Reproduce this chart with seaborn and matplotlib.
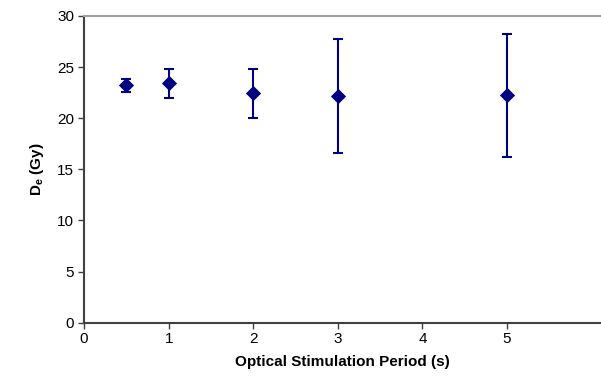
import numpy as np
import pandas as pd
import matplotlib
matplotlib.use("Agg")
import matplotlib.pyplot as plt
import seaborn as sns

# dados
periodo = [0.5, 1, 2, 3, 5]
de_gy = [23.2, 23.45, 22.45, 22.2, 22.25]
erro_inf = [22.6, 22.0, 20.06, 16.55, 16.2]
erro_sup = [23.8, 24.8, 24.8, 27.75, 28.25]

df = pd.DataFrame({"Periodo": periodo, "De": de_gy, "Inf": erro_inf, "Sup": erro_sup})

sns.set_style("ticks")
plt.rcParams["font.family"] = ["Liberation Sans", "DejaVu Sans"]
plt.rcParams["mathtext.fontset"] = "custom"
plt.rcParams["mathtext.rm"] = "Liberation Sans"
plt.rcParams["mathtext.bf"] = "Liberation Sans:bold"
plt.rcParams["text.color"] = "black"
plt.rcParams["axes.labelcolor"] = "black"
plt.rcParams["xtick.color"] = "black"
plt.rcParams["ytick.color"] = "black"

fig = plt.figure(figsize=(6.01, 3.8), dpi=100)
ax = fig.add_axes([0.1398, 0.151, 0.8602, 0.807])

cor = "#000080"
yerr = np.array([df["De"] - df["Inf"], df["Sup"] - df["De"]])
ax.errorbar(df["Periodo"], df["De"], yerr=yerr, fmt="none", ecolor=cor,
            elinewidth=1.5, capsize=3.8, capthick=1.5, zorder=2)
sns.scatterplot(data=df, x="Periodo", y="De", marker="D", s=60, color=cor,
                edgecolor=cor, linewidth=0, ax=ax, zorder=3)

ax.set_xlim(0, 6.11)
ax.set_ylim(0, 30)
ax.set_xticks(range(0, 6))
ax.set_yticks(range(0, 31, 5))
ax.tick_params(axis="both", labelsize=11, length=4, width=1, color="#404040", pad=3)

ax.set_xlabel("Optical Stimulation Period (s)", fontsize=11, fontweight="bold", labelpad=6)
ax.set_ylabel(r"$\mathbf{D_e}$ (Gy)", fontsize=11, fontweight="bold", labelpad=8)

for lado in ["left", "bottom"]:
    ax.spines[lado].set_color("#404040")
    ax.spines[lado].set_linewidth(1.5)
ax.spines["top"].set_color("#a0a0a0")
ax.spines["top"].set_linewidth(1.5)
ax.spines["right"].set_visible(False)

fig.savefig("out.png", dpi=100)
